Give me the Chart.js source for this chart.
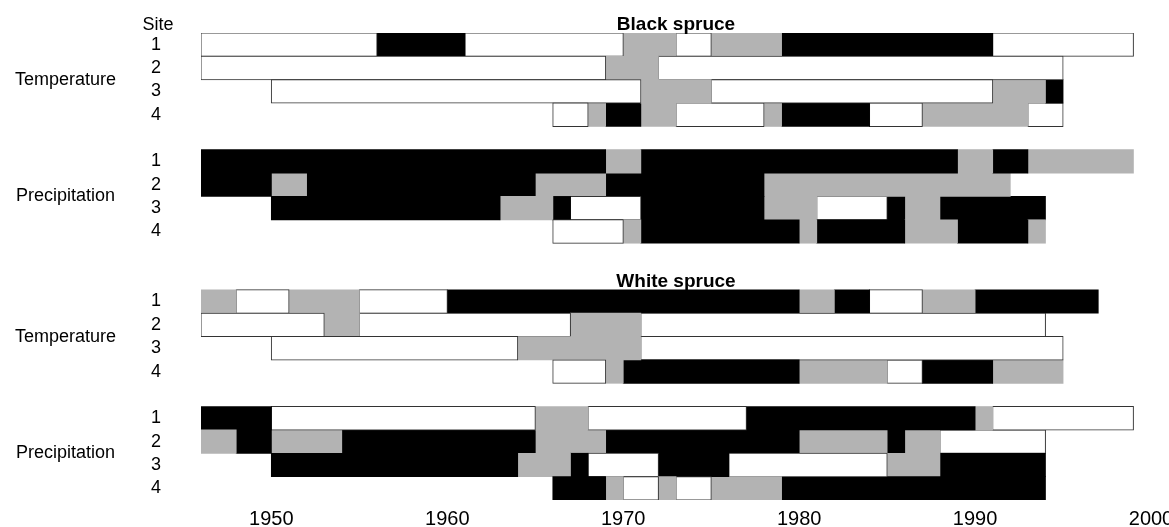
<!DOCTYPE html>
<html>
<head>
<meta charset="utf-8">
<script src="https://cdn.jsdelivr.net/npm/chart.js@4.4.1/dist/chart.umd.min.js"></script>
<style>
html, body { margin: 0; padding: 0; background: #fff; }
#wrap { width: 1169px; height: 527px; }
</style>
</head>
<body>
<div id="wrap"><canvas id="myChart"></canvas></div>
<script>
// rows top to bottom, '' = empty spacer row
const siteLabels = ['1', '2', '3', '4', '', '1', '2', '3', '4', '', '', '1', '2', '3', '4', '', '1', '2', '3', '4'];
const tickYears = [1950, 1960, 1970, 1980, 1990, 2000];

// segment boundaries (years) and segment classes: W = white, G = grey, B = black
const blackTempYears = [
    [1946, 1956, 1961, 1970, 1973, 1975, 1979, 1991, 1999],
    [1946, 1969, 1972, 1995],
    [1950, 1971, 1975, 1991, 1994, 1995],
    [1966, 1968, 1969, 1971, 1973, 1978, 1979, 1984, 1987, 1993, 1995]
];
const blackTempCodes = ['WBWGWGBW', 'WGW', 'WGWGB', 'WGBGWGBWGW'];

const blackPrecYears = [
    [1946, 1969, 1971, 1989, 1991, 1993, 1999],
    [1946, 1950, 1952, 1965, 1969, 1978, 1992],
    [1950, 1963, 1966, 1967, 1971, 1978, 1981, 1985, 1986, 1988, 1994],
    [1966, 1970, 1971, 1980, 1981, 1986, 1989, 1993, 1994]
];
const blackPrecCodes = ['BGBGBG', 'BGBGBG', 'BGBWBGWBGB', 'WGBGBGBG'];

const whiteTempYears = [
    [1946, 1948, 1951, 1955, 1960, 1980, 1982, 1984, 1987, 1990, 1997],
    [1946, 1953, 1955, 1967, 1971, 1994],
    [1950, 1964, 1971, 1995],
    [1966, 1969, 1970, 1980, 1985, 1987, 1991, 1995]
];
const whiteTempCodes = ['GWGWBGBWGB', 'WGWGW', 'WGW', 'WGBGWBG'];

const whitePrecYears = [
    [1946, 1950, 1965, 1968, 1977, 1990, 1991, 1999],
    [1946, 1948, 1950, 1954, 1965, 1969, 1980, 1985, 1986, 1988, 1994],
    [1950, 1964, 1967, 1968, 1972, 1976, 1985, 1988, 1994],
    [1966, 1969, 1970, 1972, 1973, 1975, 1979, 1994]
];
const whitePrecCodes = ['BWGWBGW', 'GBGBGBGBGW', 'BGBWBWGB', 'BGWGWGB'];

const fills = { W: '#ffffff', G: '#b3b3b3', B: '#000000' };

// line everything up with the category rows
const rowYears = [...blackTempYears, null, ...blackPrecYears, null, null, ...whiteTempYears, null, ...whitePrecYears];
const rowCodes = [...blackTempCodes, '', ...blackPrecCodes, '', '', ...whiteTempCodes, '', ...whitePrecCodes];

const maxSeg = Math.max(...rowCodes.map(c => c.length));
const datasets = [];
for (let k = 0; k < maxSeg; k++) {
    const codes = rowCodes.map(c => c[k] || 'W');
    datasets.push({
        data: rowYears.map((yrs, i) => (yrs && k < rowCodes[i].length) ? [yrs[k], yrs[k + 1]] : null),
        backgroundColor: codes.map(c => fills[c]),
        borderColor: '#333333',
        borderWidth: codes.map(c => c === 'W' ? 1 : 0),
        inflateAmount: codes.map(c => c === 'W' ? 0.5 : 0.4),
        borderSkipped: false,
        grouped: false,
        barPercentage: 1,
        categoryPercentage: 1
    });
}

const groups = [
    { label: 'Temperature', first: 0 },
    { label: 'Precipitation', first: 5 },
    { label: 'Temperature', first: 11 },
    { label: 'Precipitation', first: 16 }
];

const textPlugin = {
    id: 'textPlugin',
    afterDraw(chart) {
        const ctx = chart.ctx;
        const y = chart.scales.y;
        const area = chart.chartArea;
        const rowH = y.getPixelForValue(1) - y.getPixelForValue(0);
        ctx.save();
        ctx.fillStyle = '#000';
        ctx.textBaseline = 'middle';
        ctx.textAlign = 'center';
        ctx.font = '18px "Liberation Sans", Arial, sans-serif';
        groups.forEach(g => {
            const cy = (y.getPixelForValue(g.first) + y.getPixelForValue(g.first + 3)) / 2;
            ctx.fillText(g.label, 65.5, cy);
        });
        ctx.textBaseline = 'alphabetic';
        const top0 = y.getPixelForValue(0) - rowH / 2;
        ctx.fillText('Site', area.left - 43, top0 - 3);
        ctx.font = 'bold 19px "Liberation Sans", Arial, sans-serif';
        const cx = (area.left + area.right) / 2;
        ctx.fillText('Black spruce', cx, top0 - 3);
        ctx.fillText('White spruce', cx, y.getPixelForValue(11) - rowH / 2 - 2.5);
        ctx.restore();
    }
};

Chart.defaults.font.family = '"Liberation Sans", Arial, sans-serif';
Chart.defaults.color = '#000';

const ctx = document.getElementById('myChart').getContext('2d');
const myChart = new Chart(ctx, {
    type: 'bar',
    data: {
        labels: siteLabels,
        datasets: datasets
    },
    options: {
        indexAxis: 'y',
        responsive: true,
        maintainAspectRatio: false,
        animation: false,
        layout: { padding: { top: 33, right: 18, left: 0, bottom: 0 } },
        plugins: {
            legend: { display: false },
            tooltip: { enabled: false }
        },
        scales: {
            x: {
                type: 'linear',
                min: 1946,
                max: 2000,
                grid: { display: false, drawTicks: false },
                border: { display: false },
                ticks: { font: { size: 20 }, padding: 7, maxRotation: 0, callback: v => String(v) },
                afterBuildTicks: s => { s.ticks = tickYears.map(v => ({ value: v })); },
                afterFit: s => { s.height = 27; s.paddingLeft = 0; s.paddingRight = 0; }
            },
            y: {
                grid: { display: false, drawTicks: false },
                border: { display: false },
                ticks: { font: { size: 18 }, padding: 40, autoSkip: false },
                afterFit: s => { s.width = 201; s.paddingTop = 0; s.paddingBottom = 0; }
            }
        }
    },
    plugins: [textPlugin]
});
</script>
</body>
</html>
